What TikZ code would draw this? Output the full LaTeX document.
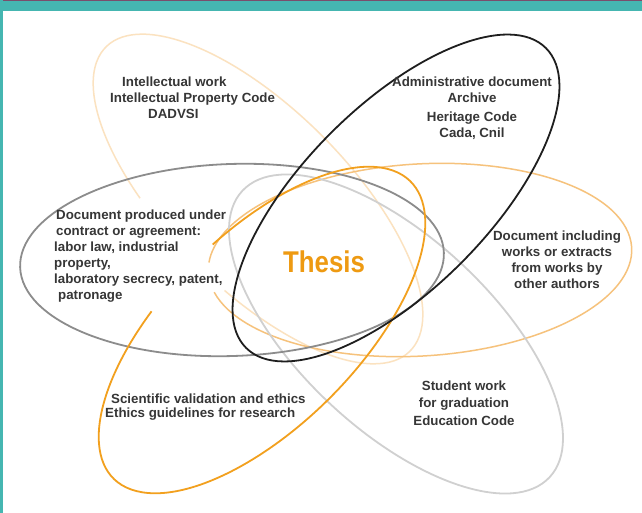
\documentclass[tikz,border=0pt]{standalone}
\usepackage{fontspec}
\setmainfont{Liberation Sans}
\definecolor{teal}{HTML}{45B6B1}
\definecolor{topline}{HTML}{7A4E6C}
\definecolor{grayA}{HTML}{8C8C8C}
\definecolor{blackB}{HTML}{1E1E1E}
\definecolor{paleC}{HTML}{F6C27C}
\definecolor{orangeD}{HTML}{F2A01E}
\definecolor{lgrayE}{HTML}{D0D0D0}
\definecolor{paleF}{HTML}{FBE2C0}
\definecolor{thesis}{HTML}{EE9A12}
\definecolor{txt}{HTML}{363636}
\tikzset{
  ring/.style={line width=1.8pt},
  pale/.style={line width=1.5pt},
  lbl/.style={inner sep=0pt, text=txt, font=\fontsize{13.3}{16}\selectfont\bfseries},
}
\begin{document}
\begin{tikzpicture}[x=1pt,y=1pt]
\useasboundingbox (0,0) rectangle (642,513);
\fill[white] (0,0) rectangle (642,513);
% frame
\fill[teal] (0,502) rectangle (642,513);
\fill[topline] (0,512) rectangle (642,513);
\fill[teal] (0,0) rectangle (3,513);

% F: intellectual work (very pale orange), gap under text
\begin{scope}[shift={(258,314)}, rotate=-45]
  \draw[pale, paleF] (281:215pt and 90pt) arc[start angle=281, end angle=607, x radius=215pt, y radius=90pt];
\end{scope}
% C: document including works (pale orange)
\begin{scope}[shift={(420,253)}, rotate=3.4]
  \draw[pale, paleC] (192:212pt and 96pt) arc[start angle=192, end angle=534, x radius=212pt, y radius=96pt];
\end{scope}
% E: student work (light gray)
\begin{scope}[shift={(396,179)}, rotate=-43]
  \draw[ring, lgrayE] (0,0) ellipse[x radius=210pt, y radius=96pt];
\end{scope}
% A: contract (gray)
\begin{scope}[shift={(232,253)}, rotate=2]
  \draw[ring, grayA] (0,0) ellipse[x radius=212pt, y radius=96pt];
\end{scope}
% D: scientific validation (orange)
\begin{scope}[shift={(262,183)}, rotate=45]
  \draw[ring, orangeD] (108:210pt and 96pt) arc[start angle=108, end angle=443, x radius=210pt, y radius=96pt];
\end{scope}
% B: administrative (black)
\begin{scope}[shift={(396,315)}, rotate=45]
  \draw[ring, blackB] (0,0) ellipse[x radius=212pt, y radius=92pt];
\end{scope}

% texts
\node[lbl, anchor=west, align=left] (intel) at (110,415)
  {\hspace*{12pt}Intellectual work\\Intellectual Property Code\\\hspace*{38pt}DADVSI};
\node[lbl, align=center] (admin) at (472,405)
  {Administrative document\\Archive\\[3pt]Heritage Code\\Cada, Cnil};
\node[lbl, anchor=west, align=left] (contract) at (54,257)
  {\hspace*{2pt}Document produced under\\\hspace*{2pt}contract or agreement:\\labor law, industrial\\property,\\laboratory secrecy, patent,\\\hspace*{4pt}patronage};
\node[lbl, align=center] (works) at (557,253)
  {Document including\\works or extracts\\from works by\\other authors};
\node[lbl, anchor=west, align=left, font=\fontsize{13.3}{14}\selectfont\bfseries] (sci) at (105,106)
  {\hspace*{6pt}Scientific validation and ethics\\Ethics guidelines for research};
\node[lbl, align=center, font=\fontsize{13.3}{17.5}\selectfont\bfseries] (student) at (464,110)
  {Student work\\for graduation\\Education Code};
\node[inner sep=0pt, text=thesis, font=\fontsize{30}{30}\selectfont\bfseries] (thesis) at (324,251)
  {\scalebox{0.86}[1]{Thesis}};
\end{tikzpicture}
\end{document}
